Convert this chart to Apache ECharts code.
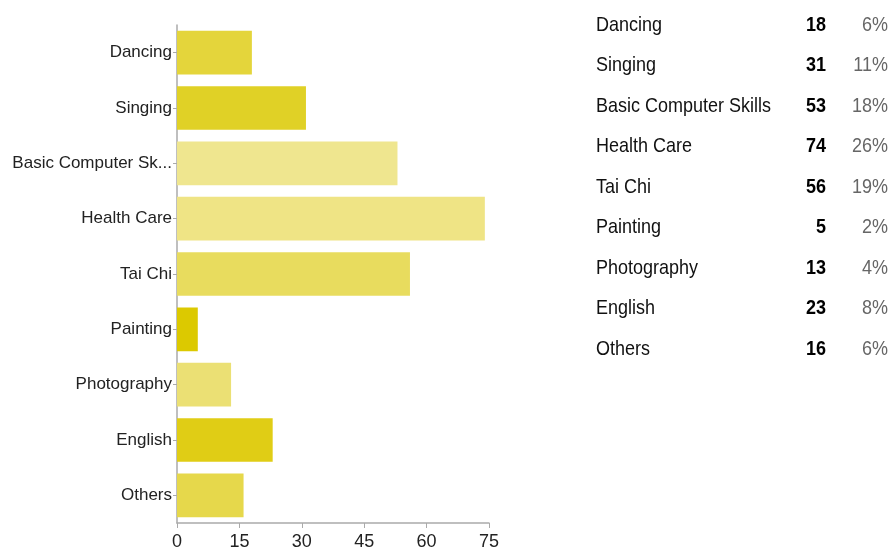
<!DOCTYPE html>
<html>
<head>
<meta charset="utf-8">
<script src="https://cdn.jsdelivr.net/npm/echarts@6/dist/echarts.min.js"></script>
<style>
  html, body { margin: 0; padding: 0; background: #fff; }
  #chart { width: 891px; height: 551px; }
</style>
</head>
<body>
<div id="chart"></div>
<script>
const categories = ['Dancing', 'Singing', 'Basic Computer Skills', 'Health Care', 'Tai Chi', 'Painting', 'Photography', 'English', 'Others']
const counts = [18, 31, 53, 74, 56, 5, 13, 23, 16]
const percents = ['6%', '11%', '18%', '26%', '19%', '2%', '4%', '8%', '6%']
const barColors = ['#e4d53b', '#e0d126', '#efe68f', '#efe485', '#e8dc5e', '#dcc900', '#ebe074', '#e0cd15', '#e6d84b']
const xTicks = [0, 15, 30, 45, 60, 75]

const FONT = '"Liberation Sans", Arial, sans-serif'

const chart = echarts.init(document.getElementById('chart'))

// table on the right side, text a bit taller like the original
const tableItems = []
categories.forEach((name, i) => {
  const y = 25 + i * 40.5
  const font = '18px ' + FONT
  tableItems.push({
    type: 'text', x: 596, y: y, scaleY: 1.12,
    style: { text: name, font: font, fill: '#111', verticalAlign: 'middle', align: 'left' }
  })
  tableItems.push({
    type: 'text', x: 826, y: y, scaleY: 1.12,
    style: { text: String(counts[i]), font: 'bold ' + font, fill: '#000', verticalAlign: 'middle', align: 'right' }
  })
  tableItems.push({
    type: 'text', x: 888, y: y, scaleY: 1.12,
    style: { text: percents[i], font: font, fill: '#666', verticalAlign: 'middle', align: 'right' }
  })
})

const option = {
  animation: false,
  grid: { left: 177, top: 25, width: 312, height: 499, containLabel: false },
  xAxis: {
    type: 'value',
    min: xTicks[0],
    max: xTicks[xTicks.length - 1],
    interval: 15,
    splitLine: { show: false },
    axisLine: { show: true, lineStyle: { color: '#aaa', width: 1.5 } },
    axisTick: { show: true, length: 5, lineStyle: { color: '#aaa' } },
    axisLabel: {
      color: '#222',
      fontSize: 18,
      fontFamily: FONT,
      margin: 10
    }
  },
  yAxis: {
    type: 'category',
    inverse: true,
    data: categories,
    axisLine: { show: true, lineStyle: { color: '#aaa', width: 1.5 } },
    axisTick: { show: true, alignWithLabel: true, length: 4, lineStyle: { color: '#aaa' } },
    axisLabel: {
      color: '#222',
      fontSize: 17,
      fontFamily: FONT,
      margin: 5,
      width: 161,
      overflow: 'truncate',
      ellipsis: '...'
    }
  },
  series: [{
    type: 'bar',
    data: counts.map((v, i) => ({ value: v, itemStyle: { color: barColors[i] } })),
    barCategoryGap: '21%'
  }],
  graphic: tableItems
}

chart.setOption(option)
</script>
</body>
</html>
